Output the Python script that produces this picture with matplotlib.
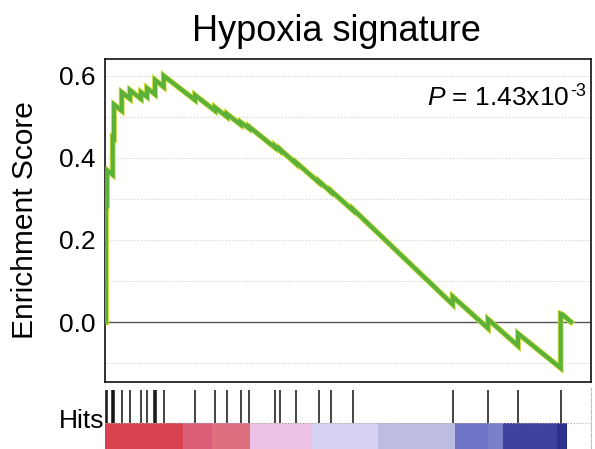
import matplotlib
matplotlib.use("Agg")
import matplotlib.pyplot as plt
import numpy as np

plt.rcParams['font.family'] = ['Liberation Sans', 'DejaVu Sans']
plt.rcParams['mathtext.fontset'] = 'custom'
plt.rcParams['mathtext.rm'] = 'Liberation Sans'
plt.rcParams['mathtext.it'] = 'Liberation Sans:italic'

# running enrichment score, vertices (gene rank, ES)
curve_rank = [0, 43, 43, 86, 86, 330, 330, 386, 386, 717, 717, 1073, 1073,
              1545, 1545, 1803, 1803, 2146, 2146, 2519, 2519, 3863, 3863,
              4721, 4721, 5236, 5236, 5824, 5824, 6180, 6180, 7296, 7296,
              7511, 7511, 8198, 8198, 9185, 9185, 9700, 9700, 10644, 10644,
              14923, 14923, 16438, 16438, 17726, 17726, 19558, 19558, 19650,
              20000]
curve_es = [0.0, 0.0, 0.29, 0.288, 0.37, 0.359, 0.45, 0.448, 0.53, 0.515,
            0.56, 0.544, 0.565, 0.544, 0.56, 0.549, 0.57, 0.555, 0.59, 0.573,
            0.60, 0.541, 0.553, 0.515, 0.523, 0.50, 0.507, 0.481, 0.487, 0.472,
            0.476, 0.425, 0.429, 0.418, 0.421, 0.386, 0.389, 0.34, 0.343, 0.317,
            0.32, 0.272, 0.275, 0.043, 0.062, -0.015, 0.007, -0.058, -0.028,
            -0.112, 0.02, 0.018, 0.0]

# positions of the gene set members in the ranked list
hit_ranks = [43, 86, 300, 330, 360, 386, 717, 1073, 1545, 1803, 2120, 2146,
             2170, 2519, 3863, 4721, 5236, 5824, 6180, 7296, 7511, 8198,
             9185, 9700, 10644, 14923, 16438, 17726, 19558]

# ranked-list colour bar blocks
bar_edges = [0, 3348, 4593, 6223, 8884, 11717, 15022, 16438, 17082, 19399, 19828]
bar_colors = ['#d8434f', '#da5e78', '#dd6f7f', '#ecc3e6', '#d5d3f1',
              '#bdbde4', '#6e74c6', '#7a80c9', '#3d429e', '#2d3190']

y_ticks = [0.0, 0.2, 0.4, 0.6]
n_right = 20859

fig = plt.figure(figsize=(5.95, 4.49), dpi=100)
ax = fig.add_axes([105/595, 1-382/449, 486/595, 323/449])

for yg in np.arange(-0.1, 0.61, 0.1):
    ax.axhline(yg, color='#cfcfcf', lw=0.8, ls=':', zorder=0)
ax.axhline(0, color='#555555', lw=1.0, zorder=1)

ax.plot(curve_rank, curve_es, color='#d8e040', lw=4.2, solid_joinstyle='miter', zorder=2)
ax.plot(curve_rank, curve_es, color='#5cb13a', lw=3.0, solid_joinstyle='miter', zorder=3)

ax.set_xlim(0, n_right)
ax.set_ylim(-0.146, 0.641)
ax.set_xticks([])
ax.set_yticks(y_ticks)
ax.set_yticklabels([f"{v:.1f}" for v in y_ticks], fontsize=19)
ax.tick_params(axis='y', length=0, pad=7)
ax.set_ylabel("Enrichment Score", fontsize=21.5, labelpad=14)
for s in ax.spines.values():
    s.set_linewidth(1.2)
    s.set_color('#111111')

# p-value: main text plus a small superscript placed after it
p_main = ax.text(0.955, 0.858, r"$\it{P}$ = 1.43x10", transform=ax.transAxes,
                 ha='right', va='baseline', fontsize=19)
fig.canvas.draw()
bb = p_main.get_window_extent()
fig.text(bb.x1 / fig.bbox.width + 0.002, 1-96/449, "-3", ha='left',
         va='baseline', fontsize=13)

fig.text(336/595, 1-41/449, "Hypoxia signature", ha='center', va='baseline', fontsize=26)

# hits strip and colour bar
hx = fig.add_axes([105/595, 0, 486/595, 61/449])
hx.set_xlim(0, n_right)
hx.set_ylim(0, 1)
lefts = bar_edges[:-1]
widths = np.diff(bar_edges)
hx.bar(lefts, 0.426, width=widths, bottom=0, align='edge', color=bar_colors, lw=0)
hx.vlines(hit_ranks, 0.426, 0.967, color='#111111', lw=1.1)
hx.axhline(0.426, color='#aaaaaa', lw=0.8, ls=':')
hx.set_xticks([])
hx.set_yticks([])
for k in ['top', 'left', 'bottom']:
    hx.spines[k].set_visible(False)
hx.spines['right'].set_color('#bbbbbb')
hx.spines['right'].set_linestyle('--')
hx.spines['right'].set_linewidth(0.8)

fig.text(82/595, 1-428/449, "Hits", ha='center', va='baseline', fontsize=19)

fig.savefig("out.png", dpi=100)
